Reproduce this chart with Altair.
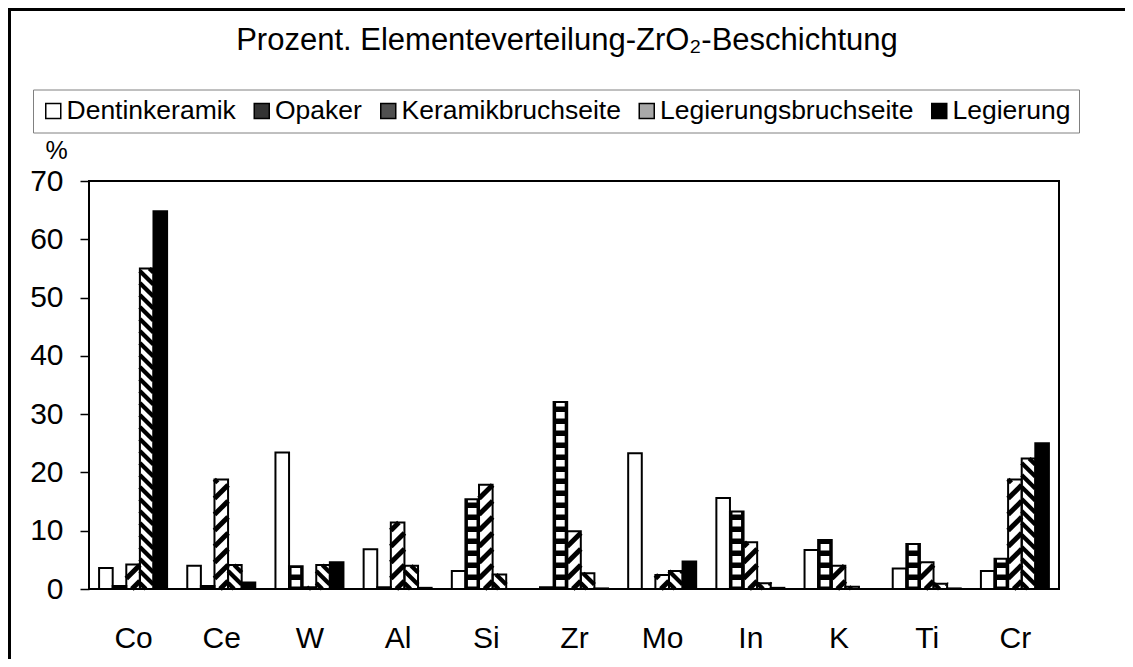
import json
import pandas as pd
import altair as alt

# ---------------- data ----------------
elements = ["Co", "Ce", "W", "Al", "Si", "Zr", "Mo", "In", "K", "Ti", "Cr"]
series = ["Dentinkeramik", "Opaker", "Keramikbruchseite", "Legierungsbruchseite", "Legierung"]
dentinkeramik = [3.6, 4.0, 23.4, 6.8, 3.1, 0.3, 23.3, 15.6, 6.7, 3.5, 3.1]
opaker = [0.5, 0.5, 3.9, 0.3, 15.4, 32.1, 0.0, 13.3, 8.4, 7.7, 5.2]
keramikbruchseite = [4.2, 18.8, 0.3, 11.4, 17.9, 9.9, 2.4, 8.0, 4.0, 4.6, 18.8]
legierungsbruchseite = [55.0, 4.1, 4.1, 4.0, 2.5, 2.7, 3.1, 1.0, 0.4, 0.9, 22.4]
legierung = [64.8, 1.1, 4.6, 0.2, 0.0, 0.1, 4.7, 0.2, 0.0, 0.1, 25.0]
y_ticks = [0, 10, 20, 30, 40, 50, 60, 70]
title_text = "Prozent. Elementeverteilung-ZrO\u2082-Beschichtung"

# ---------------- layout / style constants ----------------
FONT = "Liberation Sans"
W, H = 970, 408
Y_MAX = 70
PAD_R = 66
PX_X = W / len(elements)          # px per category
PX_Y = H / Y_MAX                  # px per percent
BW = 13.6 / PX_X                  # bar width in category units
RISE = (BW * PX_X) / PX_Y         # 45-degree stripe rise in percent units

base_fill = ["white", "black", "white", "white", "black"]
legend_fill = ["white", "#333333", "#505050", "#a8a8a8", "black"]

values = [dentinkeramik, opaker, keramikbruchseite, legierungsbruchseite, legierung]

rows = []
for i, el in enumerate(elements):
    for j, s in enumerate(series):
        v = values[j][i]
        x0 = i + (j - 2.5) * BW
        rows.append(dict(element=el, series=s, value=v, x0=x0, x1=x0 + BW,
                         fill=base_fill[j]))
bars = pd.DataFrame(rows)

# --- Opaker checker pattern: white squares inside black bars ---
O_PERIOD = 12 / PX_Y
O_WHITE = 6.5 / PX_Y
O_OFF = 2.5 / PX_Y
O_INSET = 2.5 / PX_X
sq = []
for _, r in bars[bars["series"] == "Opaker"].iterrows():
    k = 0
    while k * O_PERIOD + O_OFF < r["value"]:
        y0 = k * O_PERIOD + O_OFF
        y1 = min(y0 + O_WHITE, r["value"])
        if y1 - y0 > 0.05:
            sq.append(dict(x0=r["x0"] + O_INSET, x1=r["x1"] - O_INSET, y0=y0, y1=y1))
        k += 1
squares = pd.DataFrame(sq)


# --- diagonal hatch lines, clipped to each bar ---
def stripe_segments(x0, x1, v, period, up, sw):
    segs = []
    s = RISE / (x1 - x0)
    c = -RISE + period / 2
    while c < v:
        if up:
            xa = max(x0, x0 + (0 - c) / s)
            xb = min(x1, x0 + (v - c) / s)
            ya, yb = c + s * (xa - x0), c + s * (xb - x0)
        else:
            xa = max(x0, x0 + (c + RISE - v) / s)
            xb = min(x1, x0 + (c + RISE) / s)
            ya, yb = c + RISE - s * (xa - x0), c + RISE - s * (xb - x0)
        if xb - xa > 1e-9:
            segs.append(dict(xa=xa, xb=xb, ya=ya, yb=yb, sw=sw))
        c += period
    return segs


st = []
for _, r in bars.iterrows():
    v = r["value"]
    if v <= 0:
        continue
    if r["series"] == "Keramikbruchseite":
        st += stripe_segments(r["x0"], r["x1"], v, 16 / PX_Y, True, 5.0)
    elif r["series"] == "Legierungsbruchseite":
        st += stripe_segments(r["x0"], r["x1"], v, 12 / PX_Y, False, 4.2)
stripes = pd.DataFrame(st)

# ---------------- chart ----------------
xscale = alt.Scale(domain=[-0.5, len(elements) - 0.5], nice=False, zero=False)
yscale = alt.Scale(domain=[0, Y_MAX], nice=False)

xaxis = alt.Axis(values=list(range(len(elements))),
                 labelExpr="%s[datum.value]" % json.dumps(elements),
                 title=None, ticks=False, tickSize=0, domain=False, grid=False,
                 labelFont=FONT, labelFontSize=30, labelColor="black",
                 labelBaseline="alphabetic", labelPadding=58,
                 labelFlush=False, labelOverlap=False)
yaxis = alt.Axis(values=y_ticks, title="%", titleAngle=0, titleX=-33, titleY=-23,
                 titleAlign="center", titleBaseline="alphabetic",
                 titleFont=FONT, titleFontSize=25, titleFontWeight="normal",
                 titleColor="black", domain=False, grid=False,
                 ticks=True, tickSize=9, tickColor="black", tickWidth=1.5,
                 labelFont=FONT, labelFontSize=30, labelColor="black",
                 labelPadding=17, labelBaseline="middle")


def X(field):
    return alt.X(field, scale=xscale, axis=xaxis)


def Y(field):
    return alt.Y(field, scale=yscale, axis=yaxis, stack=None)


fill_layer = alt.Chart(bars).mark_rect(strokeWidth=0).encode(
    x=X("x0:Q"), x2="x1:Q", y=Y("value:Q"), y2=alt.datum(0),
    fill=alt.Fill("fill:N", scale=None),
)

square_layer = alt.Chart(squares).mark_rect(color="white", strokeWidth=0).encode(
    x=X("x0:Q"), x2="x1:Q", y=Y("y0:Q"), y2="y1:Q",
)

stripe_layer = alt.Chart(stripes).mark_rule(color="black", strokeCap="butt").encode(
    x=X("xa:Q"), x2="xb:Q", y=Y("ya:Q"), y2="yb:Q",
    strokeWidth=alt.StrokeWidth("sw:Q", scale=None),
)

outline_layer = alt.Chart(bars).mark_rect(fillOpacity=0, stroke="black",
                                          strokeWidth=2).encode(
    x=X("x0:Q"), x2="x1:Q", y=Y("value:Q"), y2=alt.datum(0),
)

legend_layer = alt.Chart(bars).mark_square(opacity=0).encode(
    x=alt.value(0),
    y=alt.value(0),
    color=alt.Color("series:N",
                    scale=alt.Scale(domain=series, range=legend_fill),
                    sort=series,
                    legend=alt.Legend(title=None, orient="none", legendX=-56, legendY=-91.5,
                                      direction="horizontal", columns=len(series),
                                      labelFont=FONT, labelFontSize=26.5, labelColor="black",
                                      labelLimit=0, labelOffset=0, columnPadding=13.5,
                                      symbolOffset=-1,
                                      symbolType="square", symbolSize=225,
                                      symbolStrokeColor="black", symbolStrokeWidth=1.5,
                                      symbolOpacity=1, padding=8,
                                      strokeColor="#808080")),
)

frame_top = alt.Chart(pd.DataFrame({"f": [0]})).mark_rule(
    color="black", strokeWidth=3).encode(
    x=alt.value(-81), x2=alt.value(W + PAD_R), y=alt.value(-171.5))
frame_left = alt.Chart(pd.DataFrame({"f": [0]})).mark_rule(
    color="black", strokeWidth=3).encode(
    x=alt.value(-79.5), y=alt.value(-173), y2=alt.value(H + 70))

chart = alt.layer(fill_layer, square_layer, stripe_layer, outline_layer,
                  legend_layer, frame_top, frame_left).properties(
    width=W, height=H,
    title=alt.TitleParams(title_text, font=FONT, fontSize=31, fontWeight="normal",
                          color="black", anchor="middle", frame="group",
                          baseline="alphabetic", offset=-74, dx=-7),
    autosize=alt.AutoSizeParams(type="none"),
    padding={"left": 81, "top": 173, "right": PAD_R, "bottom": 70},
).configure(background="white").configure_view(stroke="black", strokeWidth=2)

chart.save("out.html", embed_options={"renderer": "svg", "actions": False})
